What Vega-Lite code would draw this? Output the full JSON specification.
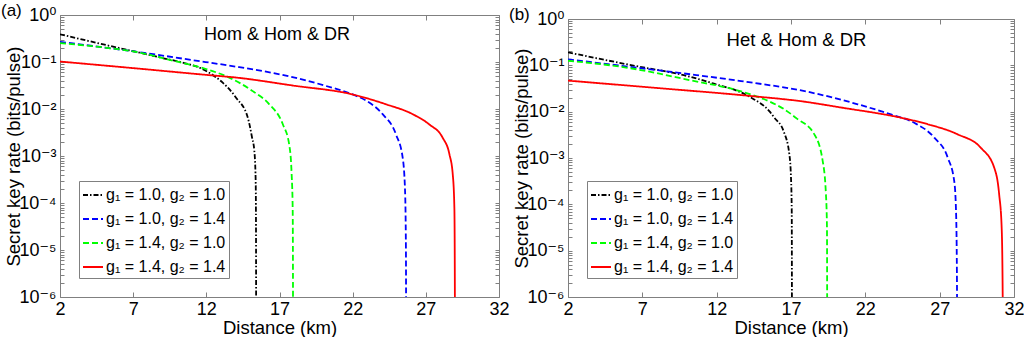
{
  "$schema": "https://vega.github.io/schema/vega-lite/v6.json",
  "padding": {"left": 0, "top": 1, "right": 0, "bottom": 0},
  "spacing": 69,
  "bounds": "flush",
  "config": {
    "font": "Liberation Sans",
    "view": {"stroke": "#808080", "strokeWidth": 1},
    "axis": {"grid": false, "domain": false, "tickColor": "#808080", "labelColor": "#000000", "titleColor": "#000000", "labelFont": "Liberation Sans, DejaVu Sans", "titleFont": "Liberation Sans", "titleFontWeight": "normal", "labelFontSize": 18, "titleFontSize": 18.5},
    "title": {"font": "Liberation Sans", "fontWeight": "normal", "fontSize": 17, "anchor": "start", "frame": "bounds", "color": "#000000"},
    "legend": {"orient": "bottom-left", "offset": 19, "symbolType": "stroke", "symbolSize": 400, "symbolStrokeWidth": 2, "labelFontSize": 16, "labelFont": "Liberation Sans, DejaVu Sans", "labelColor": "#000000", "strokeColor": "#808080", "fillColor": "#ffffff", "padding": 3, "rowPadding": 5, "labelOffset": 2, "labelLimit": 400}
  },
  "resolve": {"scale": {"color": "independent", "strokeDash": "independent"}, "legend": {"color": "independent", "strokeDash": "independent"}},
  "datasets": {
    "a": [
      {"series": "g₁ = 1.0, g₂ = 1.0", "x": 2.0, "y": 0.389},
      {"series": "g₁ = 1.0, g₂ = 1.0", "x": 4.8, "y": 0.243},
      {"series": "g₁ = 1.0, g₂ = 1.0", "x": 7.42, "y": 0.1585},
      {"series": "g₁ = 1.0, g₂ = 1.0", "x": 9.0, "y": 0.1216},
      {"series": "g₁ = 1.0, g₂ = 1.0", "x": 10.84, "y": 0.0891},
      {"series": "g₁ = 1.0, g₂ = 1.0", "x": 11.6, "y": 0.0741},
      {"series": "g₁ = 1.0, g₂ = 1.0", "x": 12.2, "y": 0.0589},
      {"series": "g₁ = 1.0, g₂ = 1.0", "x": 13.12, "y": 0.0363},
      {"series": "g₁ = 1.0, g₂ = 1.0", "x": 14.03, "y": 0.0174},
      {"series": "g₁ = 1.0, g₂ = 1.0", "x": 14.83, "y": 0.00661},
      {"series": "g₁ = 1.0, g₂ = 1.0", "x": 15.12, "y": 0.00251},
      {"series": "g₁ = 1.0, g₂ = 1.0", "x": 15.28, "y": 0.00129},
      {"series": "g₁ = 1.0, g₂ = 1.0", "x": 15.37, "y": 0.000316},
      {"series": "g₁ = 1.0, g₂ = 1.0", "x": 15.39, "y": 0.0000631},
      {"series": "g₁ = 1.0, g₂ = 1.0", "x": 15.40, "y": 0.00000316},
      {"series": "g₁ = 1.0, g₂ = 1.0", "x": 15.405, "y": 0.00000001},
      {"series": "g₁ = 1.0, g₂ = 1.4", "x": 2.0, "y": 0.269},
      {"series": "g₁ = 1.0, g₂ = 1.4", "x": 5.0, "y": 0.204},
      {"series": "g₁ = 1.0, g₂ = 1.4", "x": 7.42, "y": 0.162},
      {"series": "g₁ = 1.0, g₂ = 1.4", "x": 10.84, "y": 0.1122},
      {"series": "g₁ = 1.0, g₂ = 1.4", "x": 14.25, "y": 0.0776},
      {"series": "g₁ = 1.0, g₂ = 1.4", "x": 17.44, "y": 0.0513},
      {"series": "g₁ = 1.0, g₂ = 1.4", "x": 20.18, "y": 0.0309},
      {"series": "g₁ = 1.0, g₂ = 1.4", "x": 22.0, "y": 0.0204},
      {"series": "g₁ = 1.0, g₂ = 1.4", "x": 22.91, "y": 0.0151},
      {"series": "g₁ = 1.0, g₂ = 1.4", "x": 24.05, "y": 0.00776},
      {"series": "g₁ = 1.0, g₂ = 1.4", "x": 24.96, "y": 0.00288},
      {"series": "g₁ = 1.0, g₂ = 1.4", "x": 25.42, "y": 0.000912},
      {"series": "g₁ = 1.0, g₂ = 1.4", "x": 25.58, "y": 0.000182},
      {"series": "g₁ = 1.0, g₂ = 1.4", "x": 25.64, "y": 0.00001},
      {"series": "g₁ = 1.0, g₂ = 1.4", "x": 25.66, "y": 0.00000001},
      {"series": "g₁ = 1.4, g₂ = 1.0", "x": 2.0, "y": 0.251},
      {"series": "g₁ = 1.4, g₂ = 1.0", "x": 4.7, "y": 0.209},
      {"series": "g₁ = 1.4, g₂ = 1.0", "x": 7.42, "y": 0.1585},
      {"series": "g₁ = 1.4, g₂ = 1.0", "x": 9.7, "y": 0.1072},
      {"series": "g₁ = 1.4, g₂ = 1.0", "x": 11.98, "y": 0.0708},
      {"series": "g₁ = 1.4, g₂ = 1.0", "x": 13.34, "y": 0.0501},
      {"series": "g₁ = 1.4, g₂ = 1.0", "x": 14.3, "y": 0.0355},
      {"series": "g₁ = 1.4, g₂ = 1.0", "x": 15.17, "y": 0.024},
      {"series": "g₁ = 1.4, g₂ = 1.0", "x": 16.3, "y": 0.01259},
      {"series": "g₁ = 1.4, g₂ = 1.0", "x": 17.22, "y": 0.00479},
      {"series": "g₁ = 1.4, g₂ = 1.0", "x": 17.67, "y": 0.0017},
      {"series": "g₁ = 1.4, g₂ = 1.0", "x": 17.83, "y": 0.000407},
      {"series": "g₁ = 1.4, g₂ = 1.0", "x": 17.9, "y": 0.0000794},
      {"series": "g₁ = 1.4, g₂ = 1.0", "x": 17.92, "y": 0.00000316},
      {"series": "g₁ = 1.4, g₂ = 1.0", "x": 17.93, "y": 0.00000001},
      {"series": "g₁ = 1.4, g₂ = 1.4", "x": 2.0, "y": 0.1023},
      {"series": "g₁ = 1.4, g₂ = 1.4", "x": 7.0, "y": 0.0741},
      {"series": "g₁ = 1.4, g₂ = 1.4", "x": 12.2, "y": 0.0525},
      {"series": "g₁ = 1.4, g₂ = 1.4", "x": 14.0, "y": 0.0468},
      {"series": "g₁ = 1.4, g₂ = 1.4", "x": 17.9, "y": 0.0316},
      {"series": "g₁ = 1.4, g₂ = 1.4", "x": 22.0, "y": 0.0204},
      {"series": "g₁ = 1.4, g₂ = 1.4", "x": 24.28, "y": 0.0126},
      {"series": "g₁ = 1.4, g₂ = 1.4", "x": 26.1, "y": 0.00776},
      {"series": "g₁ = 1.4, g₂ = 1.4", "x": 27.24, "y": 0.00468},
      {"series": "g₁ = 1.4, g₂ = 1.4", "x": 28.15, "y": 0.00245},
      {"series": "g₁ = 1.4, g₂ = 1.4", "x": 28.61, "y": 0.001096},
      {"series": "g₁ = 1.4, g₂ = 1.4", "x": 28.84, "y": 0.000407},
      {"series": "g₁ = 1.4, g₂ = 1.4", "x": 28.95, "y": 0.0000794},
      {"series": "g₁ = 1.4, g₂ = 1.4", "x": 28.98, "y": 0.00000316},
      {"series": "g₁ = 1.4, g₂ = 1.4", "x": 29.0, "y": 0.00000001}
    ],
    "b": [
      {"series": "g₁ = 1.0, g₂ = 1.0", "x": 2.0, "y": 0.1905},
      {"series": "g₁ = 1.0, g₂ = 1.0", "x": 6.15, "y": 0.1023},
      {"series": "g₁ = 1.0, g₂ = 1.0", "x": 10.19, "y": 0.0569},
      {"series": "g₁ = 1.0, g₂ = 1.0", "x": 11.75, "y": 0.0407},
      {"series": "g₁ = 1.0, g₂ = 1.0", "x": 14.22, "y": 0.0209},
      {"series": "g₁ = 1.0, g₂ = 1.0", "x": 15.57, "y": 0.01},
      {"series": "g₁ = 1.0, g₂ = 1.0", "x": 15.88, "y": 0.00741},
      {"series": "g₁ = 1.0, g₂ = 1.0", "x": 16.5, "y": 0.0038},
      {"series": "g₁ = 1.0, g₂ = 1.0", "x": 16.89, "y": 0.0012},
      {"series": "g₁ = 1.0, g₂ = 1.0", "x": 17.0, "y": 0.000372},
      {"series": "g₁ = 1.0, g₂ = 1.0", "x": 17.05, "y": 0.0000724},
      {"series": "g₁ = 1.0, g₂ = 1.0", "x": 17.06, "y": 0.00000316},
      {"series": "g₁ = 1.0, g₂ = 1.0", "x": 17.07, "y": 0.00000001},
      {"series": "g₁ = 1.0, g₂ = 1.4", "x": 2.0, "y": 0.1349},
      {"series": "g₁ = 1.0, g₂ = 1.4", "x": 6.1, "y": 0.0933},
      {"series": "g₁ = 1.0, g₂ = 1.4", "x": 10.63, "y": 0.0617},
      {"series": "g₁ = 1.0, g₂ = 1.4", "x": 13.64, "y": 0.0457},
      {"series": "g₁ = 1.0, g₂ = 1.4", "x": 18.12, "y": 0.0269},
      {"series": "g₁ = 1.0, g₂ = 1.4", "x": 21.49, "y": 0.01445},
      {"series": "g₁ = 1.0, g₂ = 1.4", "x": 23.72, "y": 0.0087},
      {"series": "g₁ = 1.0, g₂ = 1.4", "x": 25.29, "y": 0.00575},
      {"series": "g₁ = 1.0, g₂ = 1.4", "x": 26.64, "y": 0.00275},
      {"series": "g₁ = 1.0, g₂ = 1.4", "x": 27.54, "y": 0.001023},
      {"series": "g₁ = 1.0, g₂ = 1.4", "x": 27.98, "y": 0.000316},
      {"series": "g₁ = 1.0, g₂ = 1.4", "x": 28.1, "y": 0.0000724},
      {"series": "g₁ = 1.0, g₂ = 1.4", "x": 28.16, "y": 0.00000316},
      {"series": "g₁ = 1.0, g₂ = 1.4", "x": 28.19, "y": 0.00000001},
      {"series": "g₁ = 1.4, g₂ = 1.0", "x": 2.0, "y": 0.1259},
      {"series": "g₁ = 1.4, g₂ = 1.0", "x": 6.15, "y": 0.0871},
      {"series": "g₁ = 1.4, g₂ = 1.0", "x": 10.19, "y": 0.0479},
      {"series": "g₁ = 1.4, g₂ = 1.0", "x": 13.5, "y": 0.0282},
      {"series": "g₁ = 1.4, g₂ = 1.0", "x": 15.5, "y": 0.0168},
      {"series": "g₁ = 1.4, g₂ = 1.0", "x": 16.5, "y": 0.0115},
      {"series": "g₁ = 1.4, g₂ = 1.0", "x": 17.4, "y": 0.00708},
      {"series": "g₁ = 1.4, g₂ = 1.0", "x": 18.57, "y": 0.00324},
      {"series": "g₁ = 1.4, g₂ = 1.0", "x": 19.13, "y": 0.000871},
      {"series": "g₁ = 1.4, g₂ = 1.0", "x": 19.35, "y": 0.000166},
      {"series": "g₁ = 1.4, g₂ = 1.0", "x": 19.42, "y": 0.0000316},
      {"series": "g₁ = 1.4, g₂ = 1.0", "x": 19.44, "y": 0.00000001},
      {"series": "g₁ = 1.4, g₂ = 1.4", "x": 2.0, "y": 0.0468},
      {"series": "g₁ = 1.4, g₂ = 1.4", "x": 8.0, "y": 0.0324},
      {"series": "g₁ = 1.4, g₂ = 1.4", "x": 14.22, "y": 0.0219},
      {"series": "g₁ = 1.4, g₂ = 1.4", "x": 17.8, "y": 0.0166},
      {"series": "g₁ = 1.4, g₂ = 1.4", "x": 20.36, "y": 0.0123},
      {"series": "g₁ = 1.4, g₂ = 1.4", "x": 24.39, "y": 0.00741},
      {"series": "g₁ = 1.4, g₂ = 1.4", "x": 26.19, "y": 0.00537},
      {"series": "g₁ = 1.4, g₂ = 1.4", "x": 28.21, "y": 0.00324},
      {"series": "g₁ = 1.4, g₂ = 1.4", "x": 29.77, "y": 0.00166},
      {"series": "g₁ = 1.4, g₂ = 1.4", "x": 30.67, "y": 0.000617},
      {"series": "g₁ = 1.4, g₂ = 1.4", "x": 31.0, "y": 0.000166},
      {"series": "g₁ = 1.4, g₂ = 1.4", "x": 31.17, "y": 0.0000316},
      {"series": "g₁ = 1.4, g₂ = 1.4", "x": 31.24, "y": 0.000001},
      {"series": "g₁ = 1.4, g₂ = 1.4", "x": 31.25, "y": 0.00000001}
    ]
  },
  "hconcat": [
    {
      "title": {"text": "(a)", "offset": -14, "dx": -3},
      "width": 439,
      "height": 282,
      "resolve": {"axis": {"x": "independent", "y": "independent"}},
      "layer": [
        {
          "data": {"name": "a"},
          "mark": {"type": "line", "clip": true, "interpolate": "monotone", "strokeWidth": 1.8},
          "encoding": {
            "x": {"field": "x", "type": "quantitative", "scale": {"domain": [2, 32], "nice": false, "zero": false}, "axis": {"orient": "bottom", "values": [2, 7, 12, 17, 22, 27, 32], "title": "Distance (km)", "tickSize": -5, "labelPadding": 8, "labelFlush": false, "titlePadding": 0}},
            "y": {"field": "y", "type": "quantitative", "scale": {"type": "log", "domain": [0.000001, 1], "nice": false}, "axis": {"orient": "left", "values": [0.000001,0.000002,0.000003,0.000004,0.000005,0.000006,0.000007,0.000008,0.000009,0.00001,0.00002,0.00003,0.00004,0.00005,0.00006,0.00007,0.00008,0.00009,0.0001,0.0002,0.0003,0.0004,0.0005,0.0006,0.0007,0.0008,0.0009,0.001,0.002,0.003,0.004,0.005,0.006,0.007,0.008,0.009,0.01,0.02,0.03,0.04,0.05,0.06,0.07,0.08,0.09,0.1,0.2,0.3,0.4,0.5,0.6,0.7,0.8,0.9,1], "labelExpr": "abs(log(datum.value)/LN10 - round(log(datum.value)/LN10)) < 0.01 ? '10' + ['⁰','⁻¹','⁻²','⁻³','⁻⁴','⁻⁵','⁻⁶'][-round(log(datum.value)/LN10)] : ''", "labelFontSize": 18, "labelOverlap": false, "labelFlush": false, "tickSize": -4, "labelPadding": 8, "title": "Secret key rate (bits/pulse)", "titleX": -47, "titleBaseline": "middle"}},
            "color": {"field": "series", "type": "nominal", "title": null, "scale": {"domain": ["g₁ = 1.0, g₂ = 1.0", "g₁ = 1.0, g₂ = 1.4", "g₁ = 1.4, g₂ = 1.0", "g₁ = 1.4, g₂ = 1.4"], "range": ["#000000", "#0000ff", "#00ff00", "#ff0000"]}},
            "strokeDash": {"field": "series", "type": "nominal", "title": null, "scale": {"domain": ["g₁ = 1.0, g₂ = 1.0", "g₁ = 1.0, g₂ = 1.4", "g₁ = 1.4, g₂ = 1.0", "g₁ = 1.4, g₂ = 1.4"], "range": [[5, 2, 1.5, 2], [6, 3], [6, 3], [1, 0]]}}
          }
        },
        {
          "data": {"values": [{"label": "Hom & Hom & DR", "x": 16.83, "y": 0.293}]},
          "mark": {"type": "text", "fontSize": 18, "align": "center", "baseline": "alphabetic", "font": "Liberation Sans", "color": "#000000"},
          "encoding": {
            "x": {"field": "x", "type": "quantitative", "scale": {"domain": [2, 32], "nice": false, "zero": false}, "axis": {"orient": "top", "values": [2, 7, 12, 17, 22, 27, 32], "labels": false, "title": null, "tickSize": -5}},
            "y": {"field": "y", "type": "quantitative", "scale": {"type": "log", "domain": [0.000001, 1], "nice": false}, "axis": {"orient": "right", "values": [0.000001,0.000002,0.000003,0.000004,0.000005,0.000006,0.000007,0.000008,0.000009,0.00001,0.00002,0.00003,0.00004,0.00005,0.00006,0.00007,0.00008,0.00009,0.0001,0.0002,0.0003,0.0004,0.0005,0.0006,0.0007,0.0008,0.0009,0.001,0.002,0.003,0.004,0.005,0.006,0.007,0.008,0.009,0.01,0.02,0.03,0.04,0.05,0.06,0.07,0.08,0.09,0.1,0.2,0.3,0.4,0.5,0.6,0.7,0.8,0.9,1], "labels": false, "title": null, "tickSize": -4}},
            "text": {"field": "label"}
          }
        }
      ]
    },
    {
      "vconcat": [
        {
          "width": 446,
          "height": 4,
          "data": {"values": []},
          "mark": {"type": "point", "opacity": 0},
          "view": {"stroke": null}
        },
        {
          "title": {"text": "(b)", "offset": -14, "dx": -3},
          "width": 446,
          "height": 278,
          "resolve": {"axis": {"x": "independent", "y": "independent"}},
          "layer": [
            {
              "data": {"name": "b"},
              "mark": {"type": "line", "clip": true, "interpolate": "monotone", "strokeWidth": 1.8},
              "encoding": {
                "x": {"field": "x", "type": "quantitative", "scale": {"domain": [2, 32], "nice": false, "zero": false}, "axis": {"orient": "bottom", "values": [2, 7, 12, 17, 22, 27, 32], "title": "Distance (km)", "tickSize": -5, "labelPadding": 8, "labelFlush": false, "titlePadding": 0}},
                "y": {"field": "y", "type": "quantitative", "scale": {"type": "log", "domain": [0.000001, 1], "nice": false}, "axis": {"orient": "left", "values": [0.000001,0.000002,0.000003,0.000004,0.000005,0.000006,0.000007,0.000008,0.000009,0.00001,0.00002,0.00003,0.00004,0.00005,0.00006,0.00007,0.00008,0.00009,0.0001,0.0002,0.0003,0.0004,0.0005,0.0006,0.0007,0.0008,0.0009,0.001,0.002,0.003,0.004,0.005,0.006,0.007,0.008,0.009,0.01,0.02,0.03,0.04,0.05,0.06,0.07,0.08,0.09,0.1,0.2,0.3,0.4,0.5,0.6,0.7,0.8,0.9,1], "labelExpr": "abs(log(datum.value)/LN10 - round(log(datum.value)/LN10)) < 0.01 ? '10' + ['⁰','⁻¹','⁻²','⁻³','⁻⁴','⁻⁵','⁻⁶'][-round(log(datum.value)/LN10)] : ''", "labelFontSize": 18, "labelOverlap": false, "labelFlush": false, "tickSize": -4, "labelPadding": 8, "title": "Secret key rate (bits/pulse)", "titleX": -47, "titleBaseline": "middle"}},
                "color": {"field": "series", "type": "nominal", "title": null, "scale": {"domain": ["g₁ = 1.0, g₂ = 1.0", "g₁ = 1.0, g₂ = 1.4", "g₁ = 1.4, g₂ = 1.0", "g₁ = 1.4, g₂ = 1.4"], "range": ["#000000", "#0000ff", "#00ff00", "#ff0000"]}},
                "strokeDash": {"field": "series", "type": "nominal", "title": null, "scale": {"domain": ["g₁ = 1.0, g₂ = 1.0", "g₁ = 1.0, g₂ = 1.4", "g₁ = 1.4, g₂ = 1.0", "g₁ = 1.4, g₂ = 1.4"], "range": [[5, 2, 1.5, 2], [6, 3], [6, 3], [1, 0]]}}
              }
            },
            {
              "data": {"values": [{"label": "Het & Hom & DR", "x": 17.37, "y": 0.261}]},
              "mark": {"type": "text", "fontSize": 18.5, "align": "center", "baseline": "alphabetic", "font": "Liberation Sans", "color": "#000000"},
              "encoding": {
                "x": {"field": "x", "type": "quantitative", "scale": {"domain": [2, 32], "nice": false, "zero": false}, "axis": {"orient": "top", "values": [2, 7, 12, 17, 22, 27, 32], "labels": false, "title": null, "tickSize": -5}},
                "y": {"field": "y", "type": "quantitative", "scale": {"type": "log", "domain": [0.000001, 1], "nice": false}, "axis": {"orient": "right", "values": [0.000001,0.000002,0.000003,0.000004,0.000005,0.000006,0.000007,0.000008,0.000009,0.00001,0.00002,0.00003,0.00004,0.00005,0.00006,0.00007,0.00008,0.00009,0.0001,0.0002,0.0003,0.0004,0.0005,0.0006,0.0007,0.0008,0.0009,0.001,0.002,0.003,0.004,0.005,0.006,0.007,0.008,0.009,0.01,0.02,0.03,0.04,0.05,0.06,0.07,0.08,0.09,0.1,0.2,0.3,0.4,0.5,0.6,0.7,0.8,0.9,1], "labels": false, "title": null, "tickSize": -4}},
                "text": {"field": "label"}
              }
            }
          ]
        }
      ],
      "spacing": 0,
      "bounds": "flush",
      "resolve": {"scale": {"color": "independent", "strokeDash": "independent"}, "legend": {"color": "independent", "strokeDash": "independent"}}
    }
  ]
}
